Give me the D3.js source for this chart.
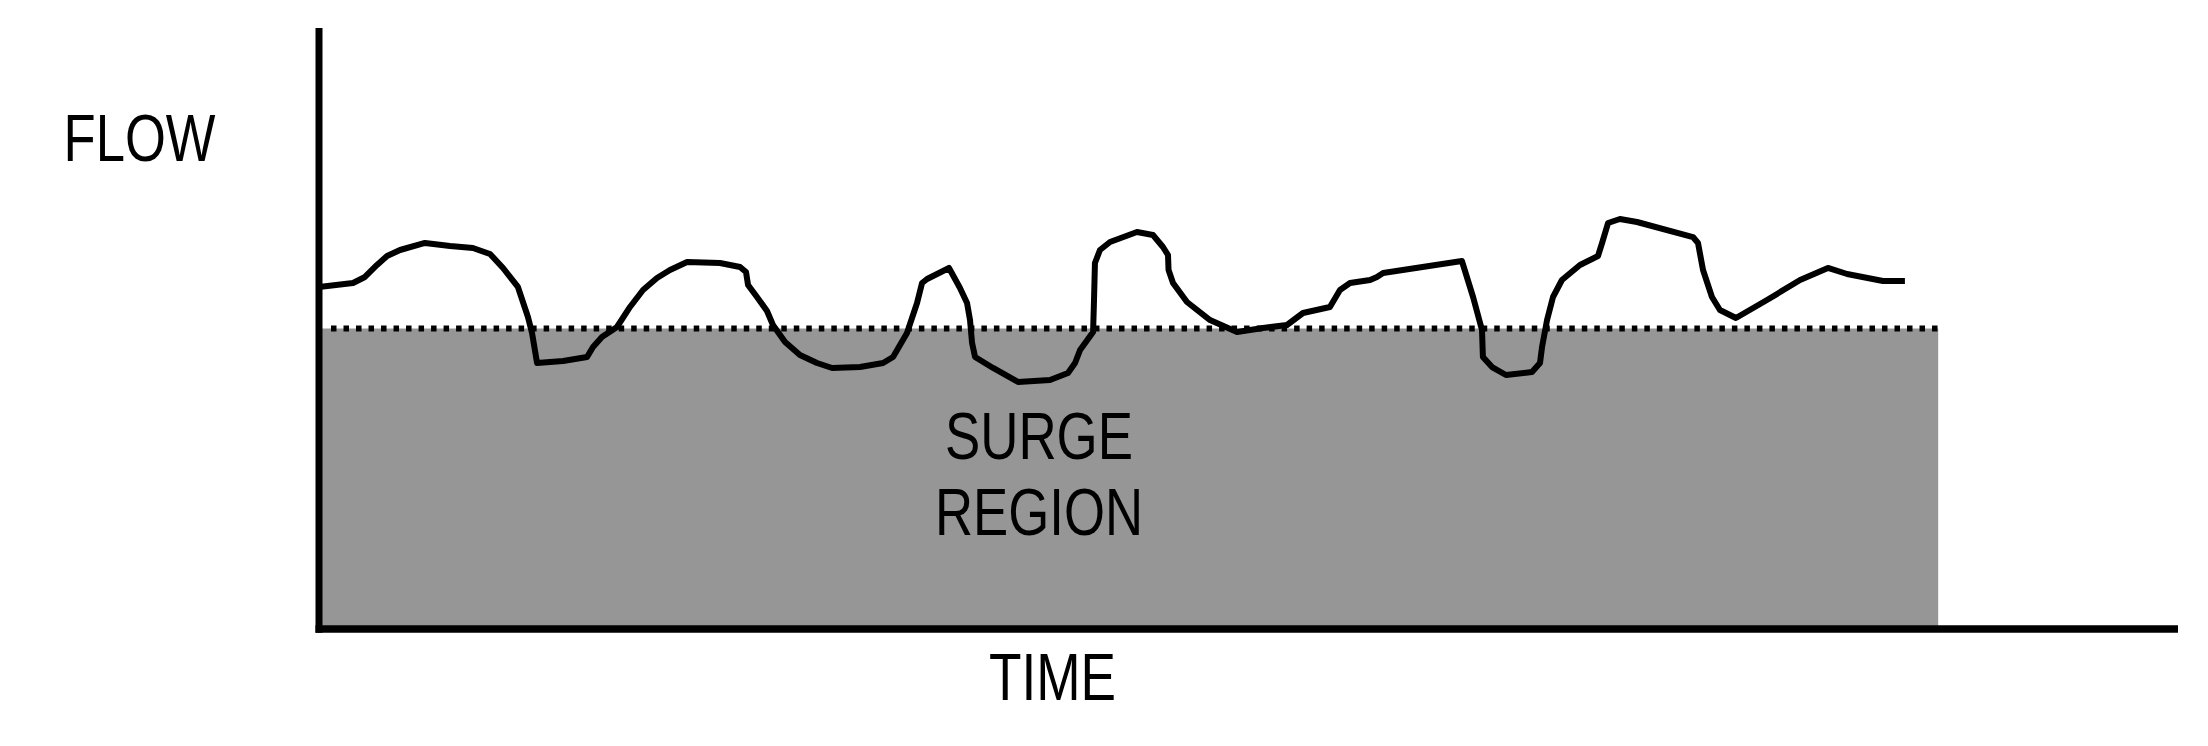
<!DOCTYPE html>
<html>
<head>
<meta charset="utf-8">
<script src="https://cdn.jsdelivr.net/npm/d3@7"></script>
<style>
  html, body { margin: 0; padding: 0; background: #ffffff; }
  svg { display: block; }
  text { font-family: "Liberation Sans", Arial, Helvetica, sans-serif; fill: #000; }
</style>
</head>
<body>
<svg id="chart" width="2208" height="746"></svg>
<script>
// ---- data (arbitrary units: time 0..100, flow 0..100) ----
const timeValues = [
  0, 1.83, 2.47, 3.12, 3.66, 4.36, 5.70, 7.05, 8.28, 9.20,
  9.90, 10.70, 11.24, 11.46, 11.73, 13.13, 14.42, 14.74, 15.22, 16.03,
  16.73, 17.43, 18.18, 18.88, 19.80, 21.57, 22.65, 22.97, 23.08, 23.56,
  24.10, 24.42, 25.07, 25.87, 26.79, 27.60, 29.10, 30.34, 30.88, 31.63,
  32.17, 32.44, 32.71, 33.89, 34.48, 34.86, 35.02, 35.13, 35.29, 36.26,
  37.60, 39.32, 40.29, 40.67, 40.94, 41.64, 41.69, 41.74, 42.01, 42.55,
  44.00, 44.86, 45.40, 45.67, 45.70, 45.94, 46.69, 47.93, 49.38, 50.78,
  52.07, 52.93, 54.38, 54.92, 55.46, 56.54, 56.91, 57.24, 61.48, 62.08,
  62.56, 62.61, 63.10, 63.85, 65.25, 65.68, 65.79, 66.06, 66.38, 66.86,
  67.83, 68.80, 69.02, 69.34, 69.98, 70.90, 73.91, 74.18, 74.45, 74.93,
  75.36, 76.22, 77.89, 79.67, 81.17, 82.20, 84.13, 85.31
];
const flowValues = [
  56.9, 57.57, 58.57, 60.57, 62.06, 63.06, 64.23, 63.73, 63.39, 62.40,
  60.07, 56.91, 51.91, 49.25, 44.26, 44.59, 45.26, 46.92, 48.59, 50.25,
  53.58, 56.41, 58.40, 59.73, 61.06, 60.90, 60.23, 59.40, 57.24, 55.24,
  52.91, 50.58, 47.75, 45.59, 44.26, 43.43, 43.59, 44.26, 45.26, 49.25,
  54.24, 57.57, 58.24, 60.07, 56.74, 54.24, 51.41, 47.59, 45.26, 43.43,
  41.10, 41.43, 42.60, 44.26, 46.42, 49.42, 54.74, 60.90, 63.06, 64.39,
  66.06, 65.56, 63.56, 62.23, 59.73, 57.57, 54.41, 51.41, 49.42, 50.08,
  50.58, 52.58, 53.58, 56.41, 57.57, 58.07, 58.57, 59.23, 61.23, 55.24,
  49.75, 45.26, 43.59, 42.26, 42.76, 44.26, 46.92, 51.41, 55.24, 58.07,
  60.57, 62.06, 64.23, 67.55, 68.22, 67.72, 65.22, 64.23, 59.73, 55.24,
  53.08, 51.75, 54.74, 58.07, 60.07, 59.07, 57.90, 57.90
];
const surgeLimit = 50;     // flow value of the surge line
const surgeEnd = 87.1;     // time where the surge region ends
const axisLabels = { x: "TIME", y: "FLOW" };
const regionLabel = ["SURGE", "REGION"];

// ---- layout ----
const svg = d3.select("#chart");
const x = d3.scaleLinear().domain([0, 100]).range([319, 2178]);
const y = d3.scaleLinear().domain([0, 100]).range([629, 28]);

const points = timeValues.map((t, i) => ({ t, f: flowValues[i] }));

// surge region
svg.append("rect")
  .attr("x", x(0))
  .attr("y", y(surgeLimit))
  .attr("width", x(surgeEnd) - x(0))
  .attr("height", y(0) - y(surgeLimit))
  .attr("fill", "#969696");

// dotted surge line
svg.append("line")
  .attr("x1", x(0) + 12)
  .attr("x2", x(surgeEnd))
  .attr("y1", y(surgeLimit))
  .attr("y2", y(surgeLimit))
  .attr("stroke", "#000")
  .attr("stroke-width", 6)
  .attr("stroke-dasharray", "5.5 7.008");

// axes
svg.append("line")
  .attr("x1", x(0)).attr("x2", x(0))
  .attr("y1", y(100)).attr("y2", y(0) + 3.75)
  .attr("stroke", "#000").attr("stroke-width", 7);
svg.append("line")
  .attr("x1", x(0) - 3.5).attr("x2", x(100))
  .attr("y1", y(0)).attr("y2", y(0))
  .attr("stroke", "#000").attr("stroke-width", 7.5);

// flow line
const line = d3.line()
  .x(d => x(d.t))
  .y(d => y(d.f))
  .curve(d3.curveLinear);
svg.append("path")
  .datum(points)
  .attr("d", line)
  .attr("fill", "none")
  .attr("stroke", "#000")
  .attr("stroke-width", 6)
  .attr("stroke-linejoin", "round")
  .attr("stroke-linecap", "butt");

// labels
function label(txt, cx, baseline, width) {
  svg.append("text")
    .attr("x", cx)
    .attr("y", baseline)
    .attr("text-anchor", "middle")
    .attr("font-size", 67)
    .attr("textLength", width)
    .attr("lengthAdjust", "spacingAndGlyphs")
    .text(txt);
}
label(axisLabels.y, 139.5, 160.7, 152);
label(axisLabels.x, 1052.5, 700, 127);
label(regionLabel[0], 1039, 459, 188);
label(regionLabel[1], 1039, 535, 208);
</script>
</body>
</html>
